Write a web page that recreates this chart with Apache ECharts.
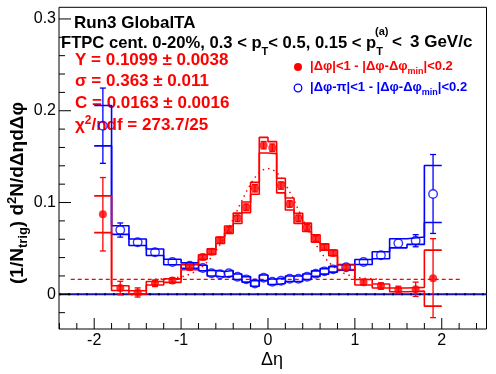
<!DOCTYPE html>
<html><head><meta charset="utf-8">
<script src="https://cdn.jsdelivr.net/npm/echarts@6/dist/echarts.min.js"></script>
<style>html,body{margin:0;padding:0;background:#fff}#c{width:496px;height:374px}</style>
</head><body><div id="c"></div>
<script>
// ---- data ----
const binEdges = [-2.0,-1.8,-1.6,-1.4,-1.2,-1.0,-0.8,-0.7,-0.6,-0.5,-0.4,-0.3,-0.2,-0.1,0.0,0.1,0.2,0.3,0.4,0.5,0.6,0.7,0.8,1.0,1.2,1.4,1.6,1.8,2.0];
const binCenters = [-1.9,-1.7,-1.5,-1.3,-1.1,-0.9,-0.75,-0.65,-0.55,-0.45,-0.35,-0.25,-0.15,-0.05,0.05,0.15,0.25,0.35,0.45,0.55,0.65,0.75,0.9,1.1,1.3,1.5,1.7,1.9];
// near side (red, filled)
const nearValues = [0.0872,0.0068,0.0020,0.0120,0.0150,0.0295,0.0406,0.0465,0.0588,0.0704,0.0828,0.0948,0.1155,0.1625,0.1598,0.1185,0.0984,0.0828,0.0730,0.0608,0.0515,0.0451,0.0294,0.0132,0.0090,0.0048,0.0055,0.0176];
const nearStat   = [0.0400,0.0074,0.0050,0.0035,0.0030,0.0030,0.0030,0.0030,0.0030,0.0030,0.0035,0.0035,0.0040,0.0040,0.0040,0.0040,0.0035,0.0035,0.0030,0.0030,0.0030,0.0030,0.0030,0.0030,0.0035,0.0040,0.0078,0.0430];
const nearSys    = [0.0200,0.0026,0.0018,0.0019,0.0020,0.0027,0.0025,0.0030,0.0035,0.0040,0.0057,0.0058,0.0065,0.0085,0.0065,0.0080,0.0065,0.0055,0.0045,0.0040,0.0035,0.0030,0.0025,0.0030,0.0022,0.0020,0.0020,0.0305];
// away side (blue, open)
const awayValues = [0.1837,0.0700,0.0567,0.0458,0.0352,0.0312,0.0287,0.0229,0.0218,0.0229,0.0192,0.0163,0.0118,0.0181,0.0137,0.0148,0.0170,0.0170,0.0192,0.0225,0.0250,0.0272,0.0294,0.0352,0.0425,0.0556,0.0584,0.1093];
const awayStat   = [0.0410,0.0077,0.0045,0.0035,0.0030,0.0030,0.0030,0.0030,0.0030,0.0030,0.0030,0.0030,0.0030,0.0030,0.0030,0.0030,0.0030,0.0030,0.0030,0.0030,0.0030,0.0030,0.0030,0.0035,0.0040,0.0045,0.0066,0.0430];
const awaySys    = [0.0220,0.0047,0.0036,0.0036,0.0030,0.0030,0.0030,0.0030,0.0030,0.0030,0.0030,0.0030,0.0030,0.0030,0.0030,0.0030,0.0030,0.0030,0.0030,0.0030,0.0030,0.0030,0.0030,0.0027,0.0038,0.0050,0.0040,0.0310];
// fit parameters (as printed)
const fitY = 0.1099, fitSigma = 0.363, fitC = 0.0163;
// axis ticks
const xMajorTicks = [-2,-1,0,1,2];
const xMinorTicks = [-2.4,-2.2,-1.8,-1.6,-1.4,-1.2,-0.8,-0.6,-0.4,-0.2,0.2,0.4,0.6,0.8,1.2,1.4,1.6,1.8,2.2,2.4];
const yMajorTicks = [0,0.1,0.2,0.3];
const yMinorTicks = [-0.02,0.02,0.04,0.06,0.08,0.12,0.14,0.16,0.18,0.22,0.24,0.26,0.28];
const xMin = -2.405, xMax = 2.515, yMin = -0.0378, yMax = 0.3127;

// ---- build ----
const FONT = '"Liberation Sans", Arial, Helvetica, sans-serif';
const RED = '#ff0000', BLUE = '#0000ff';
function stepLine(values, offs, sign) {
  const pts = [];
  for (let i = 0; i < values.length; i++) {
    const v = values[i] + sign * offs[i];
    pts.push([binEdges[i], v], [binEdges[i + 1], v]);
  }
  return pts;
}
function lineSeries(data, color, width, type) {
  return {type:'line', data, symbol:'none', silent:true, animation:false,
    lineStyle:{color, width, type: type || 'solid'}, z:2};
}
function errSeries(values, errs, color, gap) {
  return {type:'custom', silent:true, animation:false, z:3,
    data: binCenters.map((x, i) => [x, values[i], errs[i]]),
    encode:{x:0, y:1},
    renderItem: (params, api) => {
      const x = api.value(0), y = api.value(1), e = api.value(2);
      const c = api.coord([x, y]), t = api.coord([x, y + e]), b = api.coord([x, y - e]);
      const st = {stroke: color, lineWidth: 1.3};
      const ch = [];
      if (c[1] - t[1] > gap) {
        ch.push({type:'line', shape:{x1:c[0], y1:t[1], x2:c[0], y2:c[1] - gap}, style:st});
        ch.push({type:'line', shape:{x1:c[0], y1:b[1], x2:c[0], y2:c[1] + gap}, style:st});
        ch.push({type:'line', shape:{x1:c[0] - 3, y1:t[1], x2:c[0] + 3, y2:t[1]}, style:st});
        ch.push({type:'line', shape:{x1:c[0] - 3, y1:b[1], x2:c[0] + 3, y2:b[1]}, style:st});
      }
      return {type:'group', children: ch};
    }};
}
// axis ticks drawn through the axes' own scales
function tickSeries(values, dim, len) {
  return {type:'custom', silent:true, animation:false, z:5, clip:false,
    data: values.map(v => dim === 'x' ? [v, yMin] : [xMin, v]),
    encode:{x:0, y:1},
    renderItem: (params, api) => {
      const p = api.coord([api.value(0), api.value(1)]);
      const shape = dim === 'x' ? {x1:p[0], y1:p[1], x2:p[0], y2:p[1] - len} : {x1:p[0], y1:p[1], x2:p[0] + len, y2:p[1]};
      return {type:'line', shape, style:{stroke:'#000', lineWidth:1}};
    }};
}
const fitX = [];
for (let k = 0; k <= 130; k++) fitX.push(-1.3 + k * 0.02);
const fitData = fitX.map(x => [x, fitC + fitY / (Math.sqrt(2 * Math.PI) * fitSigma) * Math.exp(-x * x / (2 * fitSigma * fitSigma))]);

function txt(x, y, text, size, color, extra) {
  return {type:'text', x, y, style:Object.assign({text, font:'bold ' + size + 'px ' + FONT, fill:color, align:'left', verticalAlign:'middle'}, extra || {})};
}
function rs(size, color, lh, va) {
  return {fontSize:size, fontWeight:'bold', fontFamily:FONT, fill:color, lineHeight:lh, verticalAlign:va};
}
const option = {
  animation:false,
  backgroundColor:'#fff',
  grid:{left:59, right:9.5, top:7.3, bottom:45, show:true, borderColor:'#000', borderWidth:1, backgroundColor:'transparent'},
  xAxis:{type:'value', min:xMin, max:xMax, position:'bottom', splitLine:{show:false},
    axisLine:{show:false, onZero:false}, axisTick:{show:false},
    axisLabel:{customValues:xMajorTicks, color:'#000', fontSize:16, fontFamily:FONT, margin:4}},
  yAxis:{type:'value', min:yMin, max:yMax, position:'left', splitLine:{show:false},
    axisLine:{show:false, onZero:false}, axisTick:{show:false},
    axisLabel:{customValues:yMajorTicks, color:'#000', fontSize:16, fontFamily:FONT, margin:3}},
  series:[
    lineSeries([[xMin, 0], [xMax, 0]], '#1414b4', 2),
    lineSeries([[xMin, 0], [xMax, 0]], '#000050', 2, [2, 7]),
    lineSeries([[-2.27, fitC], [2.22, fitC]], RED, 1.2, [4, 3]),
    lineSeries(fitData, RED, 1.5, [1.5, 4]),
    lineSeries(stepLine(awayValues, awaySys, 1), BLUE, 1.6),
    lineSeries(stepLine(awayValues, awaySys, -1), BLUE, 1.6),
    errSeries(awayValues, awayStat, BLUE, 4.2),
    {type:'scatter', data: binCenters.map((x, i) => [x, awayValues[i]]), symbol:'circle', symbolSize:8.5, silent:true, z:4,
      itemStyle:{color:'rgba(0,0,0,0)', borderColor:BLUE, borderWidth:1.4}},
    lineSeries(stepLine(nearValues, nearSys, 1), RED, 1.6),
    lineSeries(stepLine(nearValues, nearSys, -1), RED, 1.6),
    errSeries(nearValues, nearStat, RED, 0),
    {type:'scatter', data: binCenters.map((x, i) => [x, nearValues[i]]), symbol:'circle', symbolSize:8, silent:true, z:4,
      itemStyle:{color:RED}},
    tickSeries(xMajorTicks, 'x', 11),
    tickSeries(xMinorTicks, 'x', 6),
    tickSeries(yMajorTicks, 'y', 12),
    tickSeries(yMinorTicks, 'y', 6)
  ],
  graphic:[
    txt(74, 23, 'Run3 GlobalTA', 17, '#000'),
    txt(61, 43, 'FTPC cent. 0-20%, 0.3 < p{s|T}< 0.5, 0.15 < p{s|T}', 16.6, '#000', {lineHeight:28, rich:{s:rs(11, '#000', 6, 'bottom')}}),
    txt(375, 32, '(a)', 11, '#000'),
    txt(392, 42, '<', 17, '#000'),
    txt(410, 42, '3 GeV/c', 17, '#000'),
    txt(75, 60, 'Y = 0.1099 \u00b1 0.0038', 17, RED),
    txt(75, 81, '\u03c3 = 0.363 \u00b1 0.011', 17, RED),
    txt(75, 103, 'C = 0.0163 \u00b1 0.0016', 17, RED),
    txt(75, 125, '\u03c7{p|2}/ndf = 273.7/25', 17, RED, {lineHeight:20, rich:{p:rs(12, RED, 14, 'top')}}),
    {type:'circle', shape:{cx:298, cy:67, r:4}, style:{fill:RED}},
    {type:'circle', shape:{cx:298, cy:88, r:3.8}, style:{fill:'none', stroke:BLUE, lineWidth:1.3}},
    txt(310, 66, '|\u0394\u03c6|<1 - |\u0394\u03c6-\u0394\u03c6{s|min}|<0.2', 13, RED, {lineHeight:20, rich:{s:rs(9, RED, 6, 'bottom')}}),
    txt(310, 87, '|\u0394\u03c6-\u03c0|<1 - |\u0394\u03c6-\u0394\u03c6{s|min}|<0.2', 13, BLUE, {lineHeight:20, rich:{s:rs(9, BLUE, 6, 'bottom')}}),
    {type:'text', x:272, y:360, style:{text:'\u0394\u03b7', font:'18px ' + FONT, fill:'#000', align:'center', verticalAlign:'middle'}},
    {type:'text', x:18, y:193, rotation:Math.PI / 2, style:{text:'(1/N{s|trig}) d{p|2}N/d\u0394\u03b7d\u0394\u03c6', font:'bold 19px ' + FONT, fill:'#000', align:'center', verticalAlign:'middle',
      lineHeight:24, rich:{s:rs(13, '#000', 6, 'bottom'), p:rs(13, '#000', 18, 'top')}}}
  ]
};
const chart = echarts.init(document.getElementById('c'), null, {renderer:'canvas'});
chart.setOption(option);
</script>
</body></html>
